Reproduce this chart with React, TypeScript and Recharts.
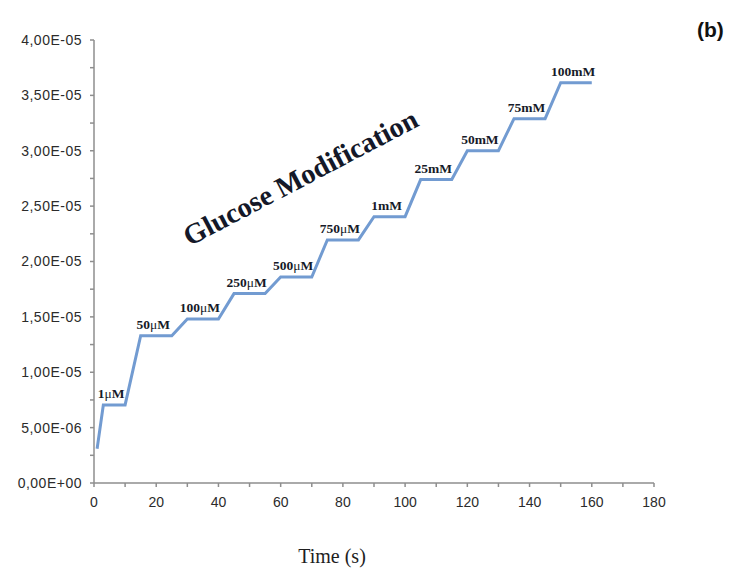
import React from 'react';
import { LineChart, Line, XAxis, YAxis, ReferenceDot } from 'recharts';

// Time (s) of each vertex of the staircase trace
const times = [1, 3, 10, 15, 25, 30, 40, 45, 55, 60, 70, 75, 85, 90, 100, 105, 115, 120, 130, 135, 145, 150, 160];
// Current (A) at each vertex
const currents = [
  3.1e-6, 7.05e-6, 7.05e-6, 1.33e-5, 1.33e-5, 1.48e-5, 1.48e-5, 1.71e-5, 1.71e-5,
  1.86e-5, 1.86e-5, 2.195e-5, 2.195e-5, 2.405e-5, 2.405e-5, 2.74e-5, 2.74e-5,
  3.0e-5, 3.0e-5, 3.29e-5, 3.29e-5, 3.615e-5, 3.615e-5,
];
// Glucose concentration added at each plateau
const concentrations = ['1μM', '50μM', '100μM', '250μM', '500μM', '750μM', '1mM', '25mM', '50mM', '75mM', '100mM'];

const xTicks = [0, 10, 20, 30, 40, 50, 60, 70, 80, 90, 100, 110, 120, 130, 140, 150, 160, 170, 180];
const yTicks = [
  0, 2.5e-6, 5e-6, 7.5e-6, 1e-5, 1.25e-5, 1.5e-5, 1.75e-5, 2e-5,
  2.25e-5, 2.5e-5, 2.75e-5, 3e-5, 3.25e-5, 3.5e-5, 3.75e-5, 4e-5,
];

const titleText = 'Glucose Modification';
const titlePos = { t: 67.8, v: 2.683e-5 };

const data = times.map((t, i) => ({ t, v: currents[i] }));

const plateaus = concentrations.map((label, i) => ({
  label,
  t: (times[1 + 2 * i] + times[2 + 2 * i]) / 2,
  v: currents[1 + 2 * i],
}));

const fmtX = (v: number) => (Math.round(v) % 20 === 0 ? String(v) : '');
const fmtY = (v: number) => {
  const k = Math.round(v / 2.5e-6);
  if (k % 2 !== 0) return '';
  if (k === 0) return '0,00E+00';
  const [m, e] = v.toExponential(2).split('e');
  const en = parseInt(e, 10);
  return m.replace('.', ',') + 'E' + (en < 0 ? '-' : '+') + String(Math.abs(en)).padStart(2, '0');
};

const axisColor = '#8e8e8e';
const tickFont = { fill: '#2b2b2b', fontSize: 14, fontFamily: 'Liberation Sans, Arial, sans-serif' };

const getCenter = (props: any) => {
  const vb = props.viewBox || {};
  const x = (vb.x ?? props.x ?? 0) + (vb.width ?? 0) / 2;
  const y = (vb.y ?? props.y ?? 0) + (vb.height ?? 0) / 2;
  return { x, y };
};

const makeConcLabel = (text: string) => (props: any) => {
  const { x, y } = getCenter(props);
  const parts = text.split('μ');
  return (
    <text
      x={x - 3}
      y={y - 7}
      textAnchor="middle"
      fontFamily="Liberation Serif, Times New Roman, serif"
      fontSize={13.5}
      fontWeight="bold"
      fill="#161a28"
    >
      {parts.length === 2 ? (
        <>
          <tspan>{parts[0]}</tspan>
          <tspan fontWeight="normal">μ</tspan>
          <tspan>{parts[1]}</tspan>
        </>
      ) : (
        text
      )}
    </text>
  );
};

const TitleLabel = (props: any) => {
  const { x, y } = getCenter(props);
  return (
    <text
      x={x}
      y={y}
      textAnchor="middle"
      transform={`rotate(-27.7 ${x} ${y})`}
      fontFamily="Liberation Serif, Times New Roman, serif"
      fontSize={28.5}
      fontWeight="bold"
      fill="#141828"
    >
      {titleText}
    </text>
  );
};

export default function App() {
  return (
    <div style={{ position: 'absolute', left: 0, top: 0, width: 729, height: 570, background: '#fff' }}>
      <LineChart
        width={729}
        height={570}
        data={data}
        margin={{ top: 40, right: 75, bottom: 57, left: 0 }}
      >
        <XAxis
          dataKey="t"
          type="number"
          domain={[0, 180]}
          ticks={xTicks}
          interval={0}
          tickFormatter={fmtX}
          tickSize={4}
          tickMargin={10}
          height={30}
          axisLine={{ stroke: axisColor, strokeWidth: 1.5 }}
          tickLine={{ stroke: axisColor, strokeWidth: 1.5 }}
          tick={tickFont}
        />
        <YAxis
          type="number"
          domain={[0, 4e-5]}
          ticks={yTicks}
          interval={0}
          tickFormatter={fmtY}
          tickSize={4}
          tickMargin={8}
          width={94}
          axisLine={{ stroke: axisColor, strokeWidth: 1.5 }}
          tickLine={{ stroke: axisColor, strokeWidth: 1.5 }}
          tick={{ ...tickFont, letterSpacing: 0.5 }}
        />
        <Line
          type="linear"
          dataKey="v"
          stroke="#729bd1"
          strokeWidth={3}
          dot={false}
          activeDot={false}
          isAnimationActive={false}
        />
        {plateaus.map((p) => (
          <ReferenceDot
            key={p.label}
            x={p.t}
            y={p.v}
            r={0}
            fill="none"
            stroke="none"
            label={makeConcLabel(p.label)}
          />
        ))}
        <ReferenceDot x={titlePos.t} y={titlePos.v} r={0} fill="none" stroke="none" label={TitleLabel} />
      </LineChart>
      <svg
        width={729}
        height={570}
        style={{ position: 'absolute', left: 0, top: 0, pointerEvents: 'none' }}
      >
        <text x={697} y={37} fontFamily="Liberation Sans, Arial, sans-serif" fontSize={21} fontWeight="bold" fill="#111">
          (b)
        </text>
        <text
          x={332}
          y={563}
          textAnchor="middle"
          fontFamily="Liberation Serif, Times New Roman, serif"
          fontSize={20}
          fill="#1e1e1e"
        >
          Time (s)
        </text>
      </svg>
    </div>
  );
}
